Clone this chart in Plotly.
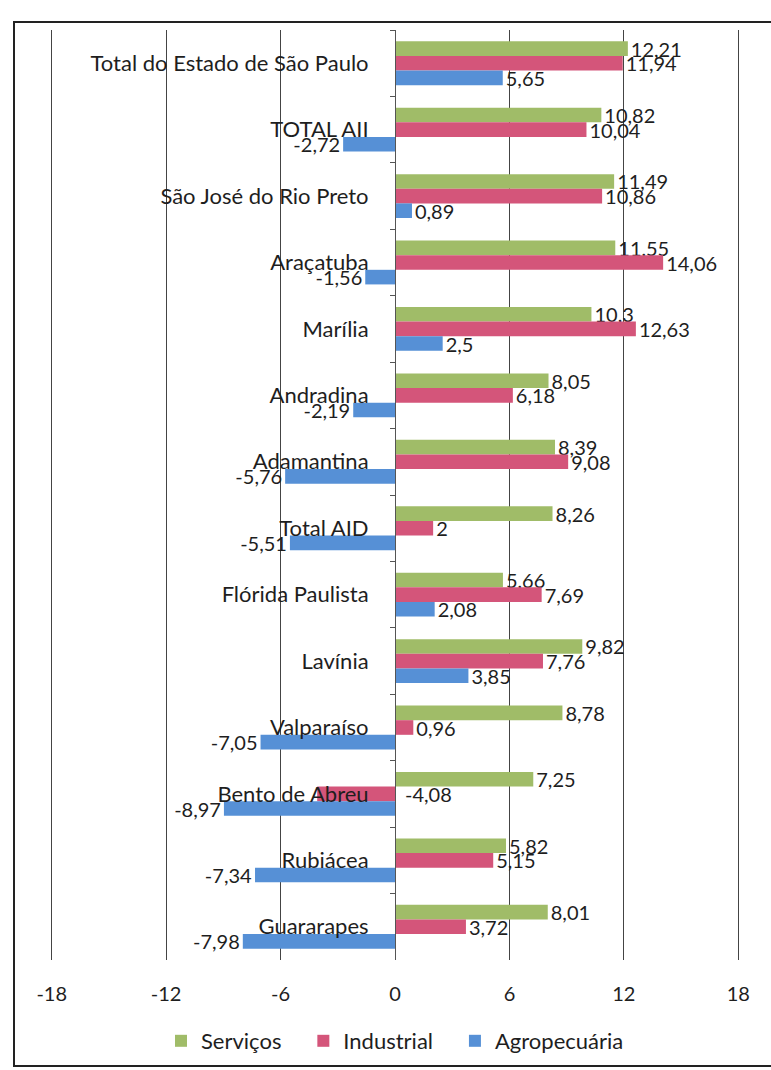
import plotly.graph_objects as go

categories = [
    "Total do Estado de São Paulo", "TOTAL AII", "São José do Rio Preto",
    "Araçatuba", "Marília", "Andradina", "Adamantina", "Total AID",
    "Flórida Paulista", "Lavínia", "Valparaíso", "Bento de Abreu",
    "Rubiácea", "Guararapes",
]
servicos = [12.21, 10.82, 11.49, 11.55, 10.3, 8.05, 8.39, 8.26, 5.66, 9.82, 8.78, 7.25, 5.82, 8.01]
industrial = [11.94, 10.04, 10.86, 14.06, 12.63, 6.18, 9.08, 2, 7.69, 7.76, 0.96, -4.08, 5.15, 3.72]
agropecuaria = [5.65, -2.72, 0.89, -1.56, 2.5, -2.19, -5.76, -5.51, 2.08, 3.85, -7.05, -8.97, -7.34, -7.98]
x_ticks = [-18, -12, -6, 0, 6, 12, 18]
series_names = ["Serviços", "Industrial", "Agropecuária"]

series = [
    (series_names[0], servicos, "#A0BC68"),
    (series_names[1], industrial, "#D4557A"),
    (series_names[2], agropecuaria, "#5690D6"),
]

FONT = "Lato"
TXT = "#1e1e1e"
W, H = 771, 1070
ML, MR, MT, MB = 46, 27, 30, 110
XR = 18.3
PAD = "\u00a0\u00a0\u00a0"  # extra room between legend entries


def fmt(v):
    return f"{v:g}".replace(".", ",")


fig = go.Figure()
moved = []  # label drawn on the axis side, as in the original
for i, (name, vals, color) in enumerate(series):
    texts, positions = [], []
    for cat, v in zip(categories, vals):
        if name == "Industrial" and cat == "Bento de Abreu":
            texts.append("")
            positions.append("none")
            moved.append((cat, v))
        else:
            texts.append(fmt(v))
            positions.append("outside")
    fig.add_trace(go.Bar(
        name=name + (PAD if i < len(series) - 1 else ""),
        y=categories, x=vals, orientation="h",
        marker=dict(color=color, line=dict(width=0)),
        text=texts, textposition=positions, cliponaxis=False,
        constraintext="none",
        textfont=dict(family=FONT, size=20, color=TXT),
        outsidetextfont=dict(family=FONT, size=20, color=TXT),
    ))

for cat, v in moved:
    fig.add_annotation(x=0, y=cat, text=fmt(v), showarrow=False,
                       xanchor="left", xshift=8,
                       font=dict(family=FONT, size=20, color=TXT))

# outer chart frame (pixel positions converted to paper fractions)
pw, ph = W - ML - MR, H - MT - MB


def px_x(p):
    return (p - ML) / pw


def px_y(p):
    return (H - MB - p) / ph


fig.add_shape(type="rect", xref="paper", yref="paper",
              x0=px_x(14), x1=px_x(W + 3), y0=px_y(1066), y1=px_y(22),
              line=dict(color="#222222", width=2), layer="below")

fig.update_layout(
    width=W, height=H,
    margin=dict(l=ML, r=MR, t=MT, b=MB, autoexpand=False),
    paper_bgcolor="white", plot_bgcolor="white",
    barmode="group", bargap=0.34, bargroupgap=0,
    font=dict(family=FONT, size=22, color=TXT),
    showlegend=True,
    legend=dict(orientation="h", x=0.5, xanchor="center",
                y=px_y(1041), yanchor="middle",
                font=dict(family=FONT, size=22, color=TXT),
                itemwidth=30, traceorder="normal"),
    xaxis=dict(range=[-XR, XR], tickvals=x_ticks,
               ticktext=[str(t) for t in x_ticks],
               showgrid=True, gridcolor="#444444", gridwidth=1,
               zeroline=False, showline=False, ticks="",
               automargin=False, ticklabelstandoff=20,
               tickfont=dict(family=FONT, size=20, color=TXT)),
    yaxis=dict(autorange="reversed", anchor="free", position=0.5,
               showline=True, linecolor="#555555", linewidth=1,
               ticks="outside", tickson="boundaries", ticklen=5,
               tickcolor="#555555", showgrid=False, zeroline=False,
               automargin=False, ticklabelstandoff=22,
               tickfont=dict(family=FONT, size=22, color=TXT)),
)

fig.write_html(
    "out.html",
    config={"displayModeBar": False},
    post_script="document.body.style.margin='0';document.body.style.padding='0';",
)
